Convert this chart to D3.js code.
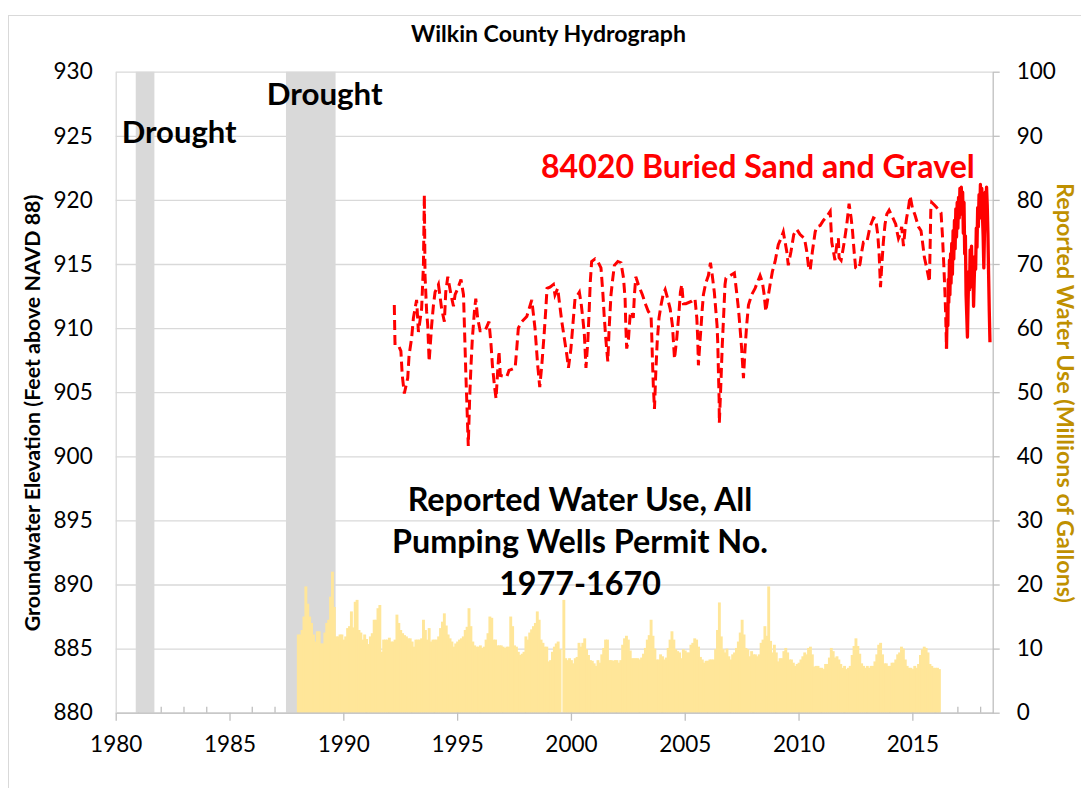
<!DOCTYPE html>
<html>
<head>
<meta charset="utf-8">
<title>Wilkin County Hydrograph</title>
<script src="https://d3js.org/d3.v7.min.js"></script>
<style>
    body { margin: 0; background: #fff; }
    svg text { font-family: Lato, "Open Sans", sans-serif; fill: #000; }
    .tick text { font-size: 22.5px; }
    .note { font-weight: bold; }
</style>
</head>
<body>
<div id="chart"></div>
<script>
    // drought periods (decimal years)
    var droughts = [[1980.88, 1981.70], [1987.48, 1989.66]];

    // reported water use, millions of gallons, one row per year, Jan..Dec
    var useStartYear = 1988;
    var waterUse = [
        [12.2, 12.2, 12.9, 15.0, 19.7, 17.0, 15.0, 14.0, 12.2, 11.1, 12.7, 12.7],
        [10.8, 10.8, 12.5, 14.0, 14.5, 18.1, 22.0, 16.5, 11.9, 11.9, 12.2, 12.2],
        [11.4, 11.9, 13.2, 13.5, 15.8, 13.3, 17.3, 17.6, 12.9, 12.5, 11.4, 12.2],
        [11.5, 10.7, 11.9, 12.4, 14.5, 14.5, 16.3, 16.8, 9.5, 11.4, 11.4, 11.4],
        [11.7, 11.1, 11.1, 11.4, 15.3, 14.0, 12.9, 12.4, 12.1, 11.9, 11.6, 11.6],
        [11.1, 10.3, 11.4, 11.4, 11.4, 11.6, 14.5, 12.9, 11.4, 13.2, 11.1, 11.4],
        [11.4, 11.4, 11.9, 13.2, 14.2, 15.5, 13.6, 12.2, 11.6, 11.1, 10.3, 10.8],
        [11.1, 11.4, 11.6, 11.9, 12.9, 13.4, 16.3, 13.5, 11.1, 10.5, 10.3, 10.3],
        [10.5, 10.1, 10.3, 11.4, 12.4, 15.0, 14.8, 11.4, 11.4, 10.5, 10.5, 10.5],
        [10.3, 10.1, 10.3, 10.3, 15.0, 13.5, 10.5, 10.3, 9.5, 9.0, 9.2, 9.5],
        [11.9, 11.4, 12.5, 13.0, 13.5, 14.0, 15.8, 14.5, 11.4, 10.9, 10.3, 10.3],
        [8.0, 8.2, 9.5, 10.3, 10.8, 11.1, 9.9, 0, 17.6, 8.5, 8.2, 8.5],
        [8.2, 7.7, 8.5, 8.7, 10.9, 10.3, 10.9, 11.6, 9.9, 9.0, 8.2, 8.1],
        [7.7, 7.3, 8.2, 7.8, 9.1, 10.1, 11.4, 11.4, 8.2, 8.2, 8.1, 8.2],
        [8.2, 7.8, 8.2, 10.6, 11.6, 12.0, 11.4, 9.7, 8.5, 8.5, 8.5, 8.5],
        [8.3, 8.6, 9.2, 10.1, 11.4, 12.1, 14.5, 12.0, 10.0, 8.3, 8.3, 9.1],
        [8.8, 8.3, 8.6, 10.1, 11.4, 12.7, 11.4, 9.9, 9.6, 9.4, 8.5, 9.9],
        [9.7, 9.4, 9.4, 10.6, 10.9, 11.6, 11.4, 10.3, 8.7, 8.3, 7.8, 8.1],
        [8.1, 8.3, 8.3, 8.3, 9.9, 12.9, 17.2, 11.9, 9.9, 9.4, 10.0, 8.8],
        [8.3, 9.1, 9.4, 10.1, 11.1, 12.5, 14.5, 12.2, 10.1, 9.9, 8.8, 9.6],
        [9.1, 9.1, 8.8, 9.1, 10.9, 11.4, 13.5, 12.0, 19.7, 11.2, 9.4, 10.6],
        [9.4, 8.0, 8.5, 8.5, 9.6, 10.1, 9.4, 8.3, 8.3, 7.8, 7.3, 7.6],
        [7.8, 8.3, 8.8, 9.4, 9.1, 10.1, 10.3, 9.1, 7.2, 7.3, 7.3, 7.0],
        [7.0, 6.8, 7.6, 7.6, 8.6, 10.1, 9.6, 8.6, 8.8, 8.3, 7.6, 7.0],
        [7.3, 6.8, 7.0, 7.3, 9.0, 10.4, 11.6, 10.4, 9.2, 7.7, 7.3, 7.0],
        [7.3, 7.0, 7.3, 7.3, 8.0, 9.1, 10.6, 10.9, 9.1, 7.7, 7.7, 7.3],
        [7.3, 7.8, 7.8, 8.3, 9.1, 9.4, 10.3, 10.0, 8.3, 7.3, 7.0, 7.0],
        [6.8, 7.3, 7.0, 7.6, 9.0, 9.9, 10.3, 10.1, 9.4, 7.6, 7.3, 7.0],
        [7.0, 7.0, 6.8]
    ];

    // well 84020, manual measurements [year, feet]
    var wellManual = [
        [1992.24, 911.8], [1992.27, 908.8], [1992.39, 908.8], [1992.53, 908.2], [1992.59, 906.3], [1992.68, 904.9],
        [1992.83, 906.1], [1992.89, 907.9], [1993.00, 909.2], [1993.08, 910.8], [1993.22, 912.2], [1993.30, 909.7],
        [1993.44, 911.5], [1993.52, 914.9], [1993.56, 920.4], [1993.59, 914.1], [1993.66, 911.3], [1993.71, 910.2],
        [1993.77, 907.4], [1993.88, 910.2], [1993.96, 911.8], [1994.03, 912.8], [1994.18, 913.4], [1994.32, 911.5],
        [1994.44, 910.5], [1994.50, 912.8], [1994.59, 914.0], [1994.73, 912.6], [1994.84, 911.7], [1994.91, 912.6],
        [1995.03, 913.1], [1995.17, 913.8], [1995.28, 912.6], [1995.32, 910.2], [1995.38, 906.6], [1995.44, 903.5],
        [1995.49, 900.8], [1995.55, 904.5], [1995.61, 907.1], [1995.67, 909.2], [1995.76, 911.3], [1995.82, 912.3],
        [1995.90, 910.8], [1996.01, 909.8], [1996.23, 909.8], [1996.40, 910.5], [1996.49, 908.7], [1996.55, 907.1],
        [1996.64, 905.5], [1996.71, 904.5], [1996.78, 906.6], [1996.84, 908.2], [1996.90, 906.3], [1997.18, 906.2],
        [1997.28, 906.7], [1997.55, 906.9], [1997.62, 908.4], [1997.69, 910.0], [1997.84, 910.5], [1998.06, 910.9],
        [1998.28, 912.2], [1998.42, 910.0], [1998.54, 907.1], [1998.63, 905.4], [1998.72, 907.1], [1998.83, 909.7],
        [1998.89, 911.3], [1998.95, 913.1], [1999.08, 913.2], [1999.23, 913.4], [1999.30, 912.6], [1999.42, 913.1],
        [1999.48, 912.2], [1999.60, 910.5], [1999.71, 909.2], [1999.82, 907.9], [1999.89, 906.9], [2000.00, 908.4],
        [2000.11, 910.8], [2000.18, 912.3], [2000.30, 912.6], [2000.37, 912.8], [2000.45, 911.9], [2000.52, 910.8],
        [2000.59, 909.5], [2000.66, 906.9], [2000.74, 908.9], [2000.80, 911.3], [2000.85, 913.6], [2000.91, 915.2],
        [2001.06, 915.4], [2001.18, 915.2], [2001.32, 914.7], [2001.40, 912.8], [2001.46, 911.0], [2001.53, 909.2],
        [2001.62, 907.4], [2001.68, 910.0], [2001.76, 912.6], [2001.84, 913.9], [2001.91, 914.9], [2002.06, 915.2],
        [2002.20, 915.1], [2002.31, 913.9], [2002.38, 912.3], [2002.41, 910.2], [2002.45, 908.4], [2002.53, 909.2],
        [2002.60, 911.0], [2002.67, 911.3], [2002.74, 910.8], [2002.79, 912.6], [2002.85, 914.0], [2002.96, 913.4],
        [2003.14, 912.6], [2003.29, 911.8], [2003.40, 911.3], [2003.52, 911.0], [2003.55, 909.5], [2003.58, 907.6],
        [2003.62, 905.5], [2003.67, 903.7], [2003.73, 906.6], [2003.79, 908.9], [2003.87, 910.8], [2003.96, 911.8],
        [2004.06, 912.7], [2004.14, 913.0], [2004.25, 912.3], [2004.36, 911.5], [2004.46, 910.2], [2004.55, 907.6],
        [2004.65, 909.2], [2004.75, 911.3], [2004.81, 912.8], [2004.87, 913.4], [2004.94, 911.9], [2005.05, 911.9],
        [2005.31, 912.1], [2005.45, 912.3], [2005.53, 910.8], [2005.57, 909.2], [2005.60, 907.1], [2005.66, 908.7],
        [2005.72, 910.2], [2005.77, 911.5], [2005.82, 912.6], [2005.92, 913.5], [2006.04, 914.1], [2006.13, 915.1],
        [2006.21, 914.1], [2006.30, 912.8], [2006.36, 911.5], [2006.42, 910.2], [2006.45, 908.9], [2006.48, 906.6],
        [2006.51, 904.5], [2006.52, 902.6], [2006.58, 905.3], [2006.65, 908.7], [2006.71, 911.0], [2006.77, 913.4],
        [2006.81, 913.9], [2007.18, 914.3], [2007.28, 912.8], [2007.36, 911.5], [2007.43, 910.0], [2007.50, 908.4],
        [2007.58, 906.1], [2007.65, 908.4], [2007.72, 910.2], [2007.80, 911.8], [2007.94, 912.6], [2008.09, 913.1],
        [2008.31, 914.1], [2008.41, 913.6], [2008.49, 912.6], [2008.56, 911.3], [2008.65, 912.3], [2008.75, 913.4],
        [2008.85, 914.4], [2008.97, 915.2], [2009.11, 916.5], [2009.23, 917.0], [2009.33, 917.5], [2009.41, 916.7],
        [2009.48, 916.0], [2009.55, 914.9], [2009.67, 916.0], [2009.79, 917.3], [2009.92, 917.7], [2010.07, 917.3],
        [2010.26, 917.0], [2010.36, 916.0], [2010.43, 914.9], [2010.51, 914.5], [2010.61, 916.0], [2010.73, 917.5],
        [2010.80, 917.9], [2010.95, 918.0], [2011.09, 918.4], [2011.24, 918.7], [2011.39, 919.1], [2011.46, 916.7],
        [2011.53, 916.0], [2011.60, 915.3], [2011.68, 916.5], [2011.75, 917.0], [2011.78, 915.5], [2011.87, 915.3],
        [2011.97, 916.3], [2012.04, 917.1], [2012.12, 918.1], [2012.22, 919.7], [2012.31, 918.6], [2012.37, 917.6],
        [2012.44, 916.0], [2012.51, 914.7], [2012.60, 914.6], [2012.70, 915.0], [2012.78, 916.0], [2012.85, 916.7],
        [2013.00, 916.7], [2013.14, 917.9], [2013.29, 918.6], [2013.39, 918.5], [2013.48, 917.3], [2013.54, 915.8],
        [2013.57, 914.5], [2013.60, 913.2], [2013.66, 915.0], [2013.73, 916.8], [2013.80, 918.1], [2013.88, 918.9],
        [2013.98, 919.2], [2014.17, 918.5], [2014.27, 918.1], [2014.33, 917.5], [2014.39, 917.0], [2014.46, 917.3],
        [2014.53, 917.9], [2014.61, 916.4], [2014.68, 917.7], [2014.75, 918.6], [2014.83, 919.4], [2014.90, 920.3],
        [2015.00, 919.4], [2015.12, 918.8], [2015.27, 917.9], [2015.38, 917.6], [2015.44, 916.8], [2015.53, 915.5],
        [2015.63, 914.7], [2015.75, 913.6], [2015.78, 916.3], [2015.81, 919.2], [2015.85, 919.8], [2015.97, 919.6],
        [2016.07, 919.4], [2016.26, 919.0], [2016.32, 917.3], [2016.38, 915.0], [2016.44, 912.4], [2016.47, 910.6],
        [2016.50, 908.4]
    ];

    // well 84020, data logger readings [year, feet]
    var wellLogger = [
        [2016.50, 908.4], [2016.53, 911.6], [2016.56, 910.2], [2016.58, 913.8], [2016.60, 912.0], [2016.63, 915.3],
        [2016.65, 912.6], [2016.68, 915.8], [2016.70, 913.5], [2016.73, 916.6], [2016.76, 914.2], [2016.79, 917.6],
        [2016.82, 915.4], [2016.85, 918.4], [2016.88, 916.2], [2016.91, 919.3], [2016.94, 917.1], [2016.97, 919.8],
        [2017.00, 917.8], [2017.03, 920.2], [2017.06, 918.6], [2017.09, 920.9], [2017.12, 918.9], [2017.15, 921.0],
        [2017.18, 919.0], [2017.21, 920.6], [2017.24, 917.4], [2017.27, 919.8], [2017.30, 915.8], [2017.33, 917.2],
        [2017.36, 912.6], [2017.39, 911.0], [2017.42, 909.3], [2017.45, 912.2], [2017.48, 914.4], [2017.51, 913.0],
        [2017.54, 916.1], [2017.57, 914.3], [2017.60, 916.4], [2017.63, 913.2], [2017.66, 914.8], [2017.69, 911.7],
        [2017.72, 913.9], [2017.75, 915.6], [2017.78, 914.6], [2017.81, 917.8], [2017.84, 916.3], [2017.87, 919.4],
        [2017.90, 917.9], [2017.93, 920.4], [2017.96, 918.6], [2017.99, 921.2], [2018.02, 919.4], [2018.05, 920.9],
        [2018.08, 918.8], [2018.11, 917.2], [2018.14, 914.7], [2018.17, 917.6], [2018.20, 920.6], [2018.23, 918.9],
        [2018.26, 921.0], [2018.29, 919.6], [2018.32, 917.4], [2018.35, 914.2], [2018.38, 911.3], [2018.41, 908.9]
    ];

    var yearTicks = [1980, 1985, 1990, 1995, 2000, 2005, 2010, 2015];
    var elevTicks = [880, 885, 890, 895, 900, 905, 910, 915, 920, 925, 930];
    var useTicks = [0, 10, 20, 30, 40, 50, 60, 70, 80, 90, 100];
    var useLabel = ['Reported Water Use, All', 'Pumping Wells Permit No.', '1977-1670'];

    var W = 1081, H = 788;
    var plotL = 115.7, plotR = 992.7, plotT = 71.7, plotB = 712.7;

    var x = d3.scaleLinear().domain([1980, 2018.53]).range([plotL, plotR]);
    var y = d3.scaleLinear().domain([880, 930]).range([plotB, plotT]);
    var y2 = d3.scaleLinear().domain([0, 100]).range([plotB, plotT]);

    var svg = d3.select('#chart').append('svg')
        .attr('width', W).attr('height', H);

    // chart frame (right and bottom edges fall outside the picture)
    svg.append('rect')
        .attr('x', 8.5).attr('y', 15.5).attr('width', 1100).attr('height', 800)
        .attr('fill', '#fff').attr('stroke', '#d9d9d9');

    // horizontal gridlines
    svg.append('g')
        .attr('transform', 'translate(' + plotL + ',0)')
        .call(d3.axisLeft(y).tickValues(elevTicks).tickSize(-(plotR - plotL)).tickFormat(''))
        .call(function (g) { g.select('.domain').remove(); })
        .selectAll('line').attr('stroke', '#d9d9d9').attr('stroke-width', 1.3);

    // minor year ticks sit under the bands and bars
    var minorYears = d3.range(1981, 2019).filter(function (d) { return d % 5 !== 0; });
    svg.append('g').selectAll('line')
        .data(minorYears).join('line')
        .attr('x1', x).attr('x2', x)
        .attr('y1', plotB).attr('y2', plotB - 6)
        .attr('stroke', '#bfbfbf').attr('stroke-width', 1.3);

    // drought bands
    svg.append('g').selectAll('rect')
        .data(droughts).join('rect')
        .attr('x', function (d) { return x(d[0]); })
        .attr('width', function (d) { return x(d[1]) - x(d[0]); })
        .attr('y', plotT).attr('height', plotB - plotT)
        .attr('fill', '#d9d9d9');

    // monthly water use columns
    var months = [];
    waterUse.forEach(function (row, i) {
        row.forEach(function (v, j) {
            months.push({ t: useStartYear + i + j / 12, v: v });
        });
    });
    var bw = x(1980 + 1 / 12) - x(1980);
    svg.append('g').selectAll('rect')
        .data(months).join('rect')
        .attr('x', function (d) { return x(d.t) - bw / 2; })
        .attr('width', function (d) { return d.v > 0 ? bw + 1 : 0; })
        .attr('y', function (d) { return y2(d.v); })
        .attr('height', function (d) { return plotB - y2(d.v); })
        .attr('fill', '#ffe699');

    // x axis
    var xAxis = svg.append('g')
        .attr('transform', 'translate(0,' + plotB + ')')
        .call(d3.axisBottom(x).tickValues(yearTicks).tickSize(8).tickSizeOuter(0)
            .tickPadding(15).tickFormat(d3.format('d')));
    xAxis.select('.domain').attr('stroke', '#bfbfbf').attr('stroke-width', 1.3);
    xAxis.selectAll('.tick line').attr('stroke', '#bfbfbf').attr('stroke-width', 1.3);

    // left axis
    var yAxis = svg.append('g')
        .attr('transform', 'translate(' + plotL + ',0)')
        .call(d3.axisLeft(y).tickValues(elevTicks).tickSize(0).tickSizeOuter(0).tickPadding(23));
    yAxis.select('.domain').attr('stroke', '#d9d9d9').attr('stroke-width', 1.3);

    // right axis
    var y2Axis = svg.append('g')
        .attr('transform', 'translate(' + plotR + ',0)')
        .call(d3.axisRight(y2).tickValues(useTicks).tickSize(7).tickSizeOuter(0).tickPadding(17));
    y2Axis.select('.domain').attr('stroke', '#bfbfbf').attr('stroke-width', 1.3);
    y2Axis.selectAll('.tick line').attr('stroke', '#bfbfbf').attr('stroke-width', 1.3);

    svg.selectAll('.tick text').attr('font-family', null).attr('font-size', null);

    // well hydrograph
    var line = d3.line()
        .x(function (d) { return x(d[0]); })
        .y(function (d) { return y(d[1]); });

    svg.append('path').datum(wellManual)
        .attr('d', line)
        .attr('fill', 'none').attr('stroke', '#ff0000')
        .attr('stroke-width', 3).attr('stroke-dasharray', '10,5');

    svg.append('path').datum(wellLogger)
        .attr('d', line)
        .attr('fill', 'none').attr('stroke', '#ff0000')
        .attr('stroke-width', 3.3).attr('stroke-linejoin', 'round');

    // scale a text so it spans the given width
    function fit(t, w) {
        var fs = parseFloat(t.style('font-size'));
        t.style('font-size', (fs * w / t.node().getComputedTextLength()) + 'px');
        return t;
    }

    fit(svg.append('text').attr('class', 'note')
        .attr('x', 548.5).attr('y', 42).attr('text-anchor', 'middle')
        .style('font-size', '20px').text('Wilkin County Hydrograph'), 275);

    fit(svg.append('text').attr('class', 'note')
        .attr('transform', 'translate(40,413) rotate(-90)').attr('text-anchor', 'middle')
        .style('font-size', '20px').text('Groundwater Elevation (Feet above NAVD 88)'), 437);

    fit(svg.append('text').attr('class', 'note')
        .attr('transform', 'translate(1057,393) rotate(90)').attr('text-anchor', 'middle')
        .style('font-size', '20px').style('fill', '#bf9000')
        .text('Reported Water Use (Millions of Gallons)'), 420);

    fit(svg.append('text').attr('class', 'note')
        .attr('x', 121.7).attr('y', 143).style('font-size', '30px').text('Drought'), 115);

    fit(svg.append('text').attr('class', 'note')
        .attr('x', 266.7).attr('y', 105).style('font-size', '30px').text('Drought'), 116);

    fit(svg.append('text').attr('class', 'note')
        .attr('x', 541).attr('y', 178).style('font-size', '30px').style('fill', '#ff0000')
        .text('84020 Buried Sand and Gravel'), 434);

    var useText = svg.append('text').attr('class', 'note')
        .attr('text-anchor', 'middle').style('font-size', '30px');
    useText.selectAll('tspan')
        .data(useLabel).join('tspan')
        .attr('x', 580)
        .attr('y', function (d, i) { return 511 + i * 42; })
        .text(function (d) { return d; });
    var line2 = useText.select('tspan:nth-child(2)').node().getComputedTextLength();
    useText.style('font-size', (30 * 376 / line2) + 'px');
</script>
</body>
</html>
